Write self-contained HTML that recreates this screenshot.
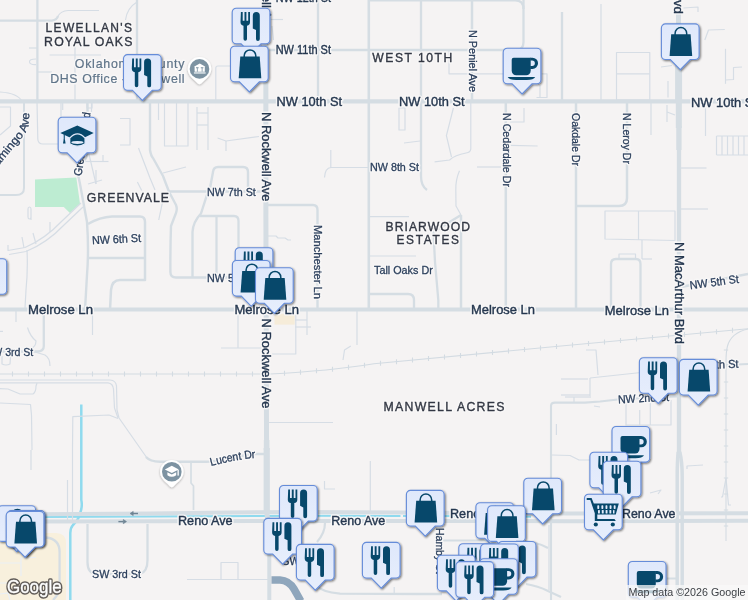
<!DOCTYPE html>
<html lang="en"><head><meta charset="utf-8"><title>Map</title>
<style>
html,body{margin:0;padding:0;background:#f5f3f3;overflow:hidden}
svg{display:block}
text{font-family:"Liberation Sans",sans-serif}
.halo{fill:#f8f7f7;stroke:#f8f7f7;stroke-width:3.2px;stroke-linejoin:round}
.st{fill:#25374f;stroke:#25374f;stroke-width:.38px}
.st2{fill:#2b3f5c;stroke:#2b3f5c;stroke-width:.3px}
.st3{fill:#4c5d73;stroke:#4c5d73;stroke-width:.2px}
.hood{fill:#323743;stroke:#323743;stroke-width:.35px}
.poi{fill:#5f7489;stroke:#5f7489;stroke-width:.2px}
#lbl{opacity:.999}
.rd{fill:none;stroke:#d5dde3;stroke-linecap:butt;stroke-linejoin:round}
.mn{fill:none;stroke:#d6dde5;stroke-width:1.2;stroke-linejoin:round}
.ic{fill:#07486b}
</style></head><body>
<svg width="748" height="600" viewBox="0 0 748 600">
<defs>
<linearGradient id="mg" x1="0" y1="0" x2="0" y2="1"><stop offset="0" stop-color="#dfe8fb"/><stop offset="1" stop-color="#e7eefc"/></linearGradient>
<filter id="sh" x="-20%" y="-20%" width="150%" height="150%"><feGaussianBlur in="SourceAlpha" stdDeviation="1.1"/><feOffset dx="1" dy="1.2"/><feComponentTransfer><feFuncA type="linear" slope="0.55"/></feComponentTransfer><feMerge><feMergeNode/><feMergeNode in="SourceGraphic"/></feMerge></filter>
<filter id="sh2" x="-30%" y="-30%" width="160%" height="160%"><feGaussianBlur in="SourceAlpha" stdDeviation="0.9"/><feOffset dx="0" dy="0.8"/><feComponentTransfer><feFuncA type="linear" slope="0.3"/></feComponentTransfer><feMerge><feMergeNode/><feMergeNode in="SourceGraphic"/></feMerge></filter>
<path id="mb" d="M4.5,0.5 H34.2 a4,4 0 0 1 4,4 V32.1 a4,4 0 0 1 -4,4 H29.3 L19.35,46.3 L9.4,36.1 H4.5 a4,4 0 0 1 -4,-4 V4.5 a4,4 0 0 1 4,-4 z" fill="url(#mg)" stroke="#658cd9" stroke-width="1.1"/>
<g id="i-bag" class="ic"><path d="M10.3,10.9 H29.7 L31.3,32.6 H8.7 z"/><path d="M14.2,12 V10 a5.8,5.8 0 0 1 11.6,0 V12" fill="none" stroke="#07486b" stroke-width="1.5"/></g>
<g id="i-fk" class="ic" transform="translate(.5 .4)"><path d="M8.7,4 h1.8 v8.7 h1.8 v-8.7 h1.9 v8.7 h1.8 v-8.7 h1.8 v10 q0,3.1 -3,3.7 v13.2 a1.75,1.75 0 0 1 -3.5,0 v-13.2 q-3,-0.6 -3,-3.7 z"/><path d="M20.6,7.6 a3.5,3.6 0 0 1 7,0 V30.9 a1.9,1.9 0 0 1 -3.8,0 V22 l-3.2,-1.6 z"/></g>
<g id="i-cup" class="ic"><path d="M9,12 a2,2 0 0 1 2,-2 H28 V23 a4.5,4.5 0 0 1 -4.5,4.5 H13.5 A4.5,4.5 0 0 1 9,23 z"/><path d="M27.5,10 h2.2 a5.65,5.65 0 0 1 0,11.3 h-2.2 v-2.9 h1.9 a2.75,2.75 0 0 0 0,-5.5 h-1.9 z"/><path d="M5,29.2 H32.5 Q31,32.2 24,32.2 H13.5 Q6.5,32.2 5,29.2 z"/></g>
<g id="i-cart" class="ic"><path d="M2.7,4.2 H7.6 L9.8,9.8 H34.8 L31.8,20.8 H13.3 V25.4 H30.5 L31.8,27.4 H10.8 V19.5 L6.3,6.2 H2.7 z"/><circle cx="11.8" cy="30.8" r="2.1"/><circle cx="28.8" cy="30.8" r="2.1"/><g fill="#e3ebfb"><rect x="13.3" y="11.6" width="1.9" height="3.6" rx=".6"/><rect x="17.4" y="11.6" width="1.9" height="3.6" rx=".6"/><rect x="21.5" y="11.6" width="1.9" height="3.6" rx=".6"/><rect x="25.6" y="11.6" width="1.9" height="3.6" rx=".6"/><rect x="29.7" y="11.6" width="1.9" height="3.6" rx=".6"/><rect x="14" y="16.3" width="1.9" height="3.6" rx=".6"/><rect x="17.8" y="16.3" width="1.9" height="3.6" rx=".6"/><rect x="21.6" y="16.3" width="1.9" height="3.6" rx=".6"/><rect x="25.4" y="16.3" width="1.9" height="3.6" rx=".6"/><rect x="29" y="16.3" width="1.5" height="3.6" rx=".6"/></g></g>
<g id="i-grad" class="ic"><path d="M19.6,8.7 L36,16.4 L19.6,24.4 L2.6,16.4 z"/><path d="M12,21.4 Q19.8,13 27.4,21.4 V27 Q19.8,32 12,27 z" stroke="#e3ebfb" stroke-width="1.3"/><ellipse cx="19.7" cy="25.7" rx="6.1" ry="1.5" fill="#e3ebfb"/><rect x="6" y="17.6" width="1.1" height="5.4"/><path d="M5.3,26.7 L6,22.6 H7.2 L7.9,26.7 z"/></g>
<path id="fp" d="M-8.4,174.1 L21.6,138.1 Q25.5,133.5 27.4,128.7 Q29.3,122.5 29.6,108"/>
<path id="lp" d="M211,466 Q236,459.4 257,457.8"/>
</defs>
<rect width="748" height="600" fill="#f5f3f3"/>
<path d="M35,179.5 L76.3,177.5 L80,203.8 L70,213 L63.8,207 H35 z" fill="#bdecd2"/>
<path d="M0,533 H56 Q66,533 66,543 V600 H0 z" fill="#f8f0dd"/><path d="M0,563 H21 V576 M21,558 L36,557.5 M0,583 H8 M0,594 L8,593 L10,600 M21,563 V558" fill="none" stroke="#e9eff6" stroke-width="1.2"/>
<rect x="274.5" y="313.8" width="20.2" height="10.8" fill="#f6ecd9"/>
<g fill="none" stroke="#8fdaee" stroke-width="2.5" stroke-linejoin="round"><path d="M81.3,404.5 V500 Q82.6,506 80.5,512 L79,517 Q77,521 73,525 Q70.3,528 70.3,533 V600"/><path d="M40,516.9 L150,516.4 L300,515.8 L400.5,515.9 M403,515.9 H406.5 M444,516.1 L531,516.8" stroke-width="2"/></g>
<g class="mn">
<path d="M58,16 Q61,11 68,10.5 H99"/>
<path d="M75,45 V102"/>
<path d="M49.6,55 H101"/>
<path d="M29,48 H37"/>
<path d="M36,59 Q29,59 29.5,62 Q30,65 36,64.6"/>
<path d="M37,72 H52"/>
<path d="M0,92 Q18,93 22.5,102"/>
<path d="M125.5,20 Q127,8 137,2"/>
<path d="M0,107 H10.5 V126 L0,135"/>
<path d="M37,102 L37.8,139 Q38,144 43,144 H58"/>
<path d="M62.7,102 V110"/>
<path d="M87,102 V108 H92 V102"/>
<path d="M164.5,102 V146 H188 V102"/>
<path d="M176.5,102 V146"/>
<path d="M158.5,102 V120"/>
<path d="M197,107 V150"/>
<path d="M208,107 V150"/>
<path d="M197,113 H208"/>
<path d="M197,125 H208"/>
<path d="M217.6,138 L226,141 L259,136.5"/>
<path d="M226,141 V151"/>
<path d="M120,118.5 H130 V145 H120"/>
<path d="M138.5,148 L150,178 L155,190"/>
<path d="M163,173 L186,167"/>
<path d="M215.8,101 V68 Q215.8,66 218,66 H231"/>
<path d="M61,102 V150"/>
<path d="M80,161.5 H108.5"/>
<path d="M103,155 V161.5"/>
<path d="M88,150 L96,184"/>
<path d="M88,184 L102,180"/>
<path d="M96,170 V184"/>
<path d="M91.5,102 V112"/>
<path d="M81,203 L62,221 Q45,239 25,247.5 L8,250.5 V245"/>
<path d="M83,207 L64,225 Q47,243 26,251.5 L9,254.5"/>
<path d="M50,232 V222"/>
<path d="M36,244 L33,233"/>
<path d="M24,248 L22,237"/>
<path d="M31,220 V209 Q31,207 29.5,207 Q28,207 28,209 V217 Q28,219 29.5,219 Q31,219 31,217"/>
<path d="M449,50 V73.8 H504"/>
<path d="M541.5,73.8 H547 V97.5 H536.5"/>
<path d="M540,85 V97.5"/>
<path d="M399,108 H405 V130 H399 z"/>
<path d="M453.4,108 L446.4,135.6 L451.5,157"/>
<path d="M404,143 L420,141"/>
<path d="M524,108 V122 H510"/>
<path d="M137.4,182 L141.7,190.6"/>
<path d="M162.4,202.6 L158.7,220"/>
<path d="M0,217 H0"/>
<path d="M369,216.6 H409"/>
<path d="M369,256 H416"/>
<path d="M470.8,102 V149 Q470.5,152.5 466,153 Q455,155 449.6,160 L434.6,161.8"/>
<path d="M459.5,170.8 Q455.5,180 455.8,190 L456,206 L461,215"/>
<path d="M477,167 H501"/>
<path d="M510.5,145.3 L537.6,146"/>
<path d="M324.5,177.5 Q325,168 331,167.5 H368"/>
<path d="M330.8,150 V168"/>
<path d="M605,211 H675 V240.5 L605,239 Z"/>
<path d="M638.5,211 V240"/>
<path d="M642,240 V259"/>
<path d="M619,259 V254 H635.5 V259"/>
<path d="M642,259 H652"/>
<path d="M268,236 H276 L278,238 H285 L288,240 H291"/>
<path d="M681,168 H706.5"/>
<path d="M681,209 H708"/>
<path d="M16,310 V322"/>
<path d="M27.5,327.5 Q30,336 36,341 Q36,347 30,349"/>
<path d="M35,352 L45,355 Q50,358 50,366"/>
<path d="M295.8,313 V354 H272"/>
<path d="M307,310 V335"/>
<path d="M295,320 H307"/>
<path d="M295,327 H311"/>
<path d="M357,310 V345"/>
<path d="M350.8,346 L344.5,350 L343,360"/>
<path d="M549,525 V590"/>
<path d="M394.2,587 V594"/>
<path d="M687,469 V466 L703,465"/>
<path d="M650,493 L661,490 L658,494"/>
<path d="M726,478 L722.5,497 H721 M726,478 L728.5,505 H731"/>
<path d="M586,350 H596 L598,375"/>
<path d="M590,378 L641,372.5"/>
<path d="M590,378 V396"/>
<path d="M561,379 H588"/>
<path d="M561,395 H590"/>
<path d="M626,403 V425 H671 V400"/>
<path d="M650.3,403 V425"/>
<path d="M639.7,410 V425"/>
<path d="M556.4,424 V435"/>
<path d="M552,455 L570,455.5 L579,460 H590"/>
<path d="M565,397 H591"/>
<path d="M574,397 V402"/>
<path d="M594,406 L600,407"/>
<path d="M2,356 V364 Q6,366 10,364 L10.5,357"/>
<path d="M0,331.4 H3"/>
<path d="M370.3,461 V511"/>
<path d="M270,19.5 H283"/>
<path d="M272,26 L273.5,40"/>
<path d="M92.5,310 V335"/>
<path d="M0,380 H110 Q116,380.5 116.5,386 L117,410 L119,418 L147,458"/>
<path d="M0,382.8 H108 Q113,383.5 113.5,389 L114.5,408 L118,418"/>
<path d="M0,388.7 L8,389 L20,394 H33 Q36,392 36,386 L37,383"/>
<path d="M0,403 L30.5,404.5 L31.5,415 L32,450"/>
<path d="M72.5,450 L72.8,416.7 L109,415 L118,418.5"/>
<path d="M31,450 V470"/>
<path d="M72.5,450 V520"/>
<path d="M67.5,480 V520"/>
<path d="M268,422.5 H333"/>
<path d="M238,310 V348"/>
<path d="M221,348 H265"/>
<path d="M187,579.5 H268"/>
<path d="M221,579 V562.5 H238 V579"/>
<path d="M324.5,481 V489 H335"/>
<path d="M27,250 Q28,270 26,290 L25,308"/>
<path d="M716.5,136 H748 M716.5,136 V155 M722,136 V155 M727.5,136 V155 M733,136 V155 M738.5,136 V155 M744,136 V155 M716.5,155 H748"/>
<path d="M601,4 V100"/>
<path d="M616.5,52.5 H649.8 V100 H616.5 z"/>
<path d="M616.5,73.8 H649.8"/>
<path d="M661,67 L672,65.5"/>
<path d="M668,81 V97.5"/>
<path d="M651,102 V135"/>
<path d="M667,105 V122"/>
<path d="M667,112 L675,115"/>
<path d="M704.8,40 L708.5,30 L724.8,29.5"/>
<path d="M725.5,48.8 V83.8"/>
<path d="M725.5,80 L733.5,79.5 V67.5 L742,67"/>
<path d="M683.5,8 L698,7 V12"/>
<path d="M705.5,107.5 V136"/>
</g>
<g fill="none" stroke="#d3dbe2" stroke-width="1.1">
<path d="M0,374 H270 Q330,371 374,363.8 L561,346 L748,328.8"/>
<path d="M748,329 Q731,333 727.5,346 Q726,352 726,362 V541"/>
<path d="M12.5,371.5 v5 M28.5,371.5 v5 M44.5,371.5 v5 M60.5,371.5 v5 M76.5,371.5 v5 M92.5,371.5 v5 M108.5,371.5 v5 M124.5,371.5 v5 M140.5,371.5 v5 M156.5,371.5 v5 M172.5,371.5 v5 M188.5,371.5 v5 M204.5,371.5 v5 M220.5,371.5 v5 M236.5,371.5 v5 M252.5,371.5 v5 M268.5,371.5 v5 M284.5,370.8 v5 M300.5,369.7 v5 M316.5,368.3 v5 M332.5,366.7 v5 M348.5,364.8 v5 M364.5,362.7 v5 M380.5,360.7 v5 M396.5,359.2 v5 M412.5,357.6 v5 M428.5,356.1 v5 M444.5,354.6 v5 M460.5,353.1 v5 M476.5,351.5 v5 M492.5,350.0 v5 M508.5,348.5 v5 M524.5,347.0 v5 M540.5,345.5 v5 M556.5,343.9 v5 M572.5,342.4 v5 M588.5,341.0 v5 M604.5,339.5 v5 M620.5,338.0 v5 M636.5,336.6 v5 M652.5,335.1 v5 M668.5,333.6 v5 M684.5,332.1 v5 M700.5,330.7 v5 M716.5,329.2 v5 M732.5,327.7 v5"/>
<path d="M723.8,350.0 h4.4 M723.8,366.0 h4.4 M723.8,382.0 h4.4 M723.8,398.0 h4.4 M723.8,414.0 h4.4 M723.8,430.0 h4.4 M723.8,446.0 h4.4 M723.8,462.0 h4.4 M723.8,478.0 h4.4 M723.8,494.0 h4.4 M723.8,510.0 h4.4 M723.8,526.0 h4.4"/>
</g>
<g class="rd">
<path d="M368.8,0 V310" stroke-width="2.6"/>
<path d="M505.8,102 V310" stroke-width="2.5"/>
<path d="M576,102 V310" stroke-width="2.5"/>
<path d="M627,102 V198 Q627,206 619,206 H576" stroke-width="2.5"/>
<path d="M681,287 L748,274" stroke-width="2.4"/>
<path d="M682,367 L748,364" stroke-width="2"/>
<path d="M443,540.5 H520 Q535,541 548,548" stroke-width="2.2"/>
<path d="M526,584 Q538,586 548,591 L561,597" stroke-width="2.2"/>
<path d="M24,102 V188 Q24,195 16,195 H0" stroke-width="2"/>
<path d="M325,523 Q325,533 317,542" stroke-width="2.2"/>
<path d="M315,585 Q322,592 340,593.6 L420,594 H442" stroke-width="2.3"/>
<path d="M421,0 V176 Q421,186 427,190" stroke-width="2.3"/>
<path d="M472,0 V102" stroke-width="2.5"/>
<path d="M562,12 V102" stroke-width="2.3"/>
<path d="M369,0.4 H515 Q523.5,0.4 523.5,9" stroke-width="2.3"/>
<path d="M318,0 V102" stroke-width="2.3"/>
<path d="M266,50 H516 Q523.5,50 523.5,42 V0" stroke-width="2.3"/>
<path d="M169,191.6 H266" stroke-width="2.5"/>
<path d="M266,205 H313 Q317.5,205 317.5,210 V310" stroke-width="2.4"/>
<path d="M461,215 V310" stroke-width="2.5"/>
<path d="M461,215 L433.5,232 L435,262 L438.3,300 V310" stroke-width="2.3"/>
<path d="M369,294 H408 Q414,294 414,300 V310" stroke-width="2.3"/>
<path d="M611,310 V264 Q611,259 616,259 H636 Q640.5,259 640.5,264 V310" stroke-width="2.3"/>
<path d="M150,102 V150 Q151,156 153,158 L163,176 L169,191.7 L176,205 Q177.5,209 176,213 L171,226 Q170.2,250 170.4,272 Q170.4,277.5 176,277.5 H266" stroke-width="2.4"/>
<path d="M37.4,0 V102" stroke-width="2.3"/>
<path d="M0,20.6 H52 Q57,20 58,16" stroke-width="2.3"/>
<path d="M137,0 V102" stroke-width="2.3"/>
<path d="M87.5,102 V152 Q87,160 81,163 Q77.5,166 77.5,172 L80,184 L87,222 Q89,250 87,275 L85,310" stroke-width="2.4"/>
<path d="M88,224 Q100,217 112,216.5 H140 Q145,216.5 145,222 V280 H120 Q112,280 111,290 L110,310" stroke-width="2.5"/>
<path d="M88,258 H145" stroke-width="2.3"/>
<path d="M209.5,191 L213,172 Q213.5,167 218,167 H243 Q248,167 248,172 V191" stroke-width="2.4"/>
<path d="M209.5,191 L206.8,195.3 L201,213.5 Q193,222 192.5,232 V278" stroke-width="2.4"/>
<path d="M200,216 H234 Q238.5,216 238.5,221 V277" stroke-width="2.3"/>
<path d="M216.5,217 V277" stroke-width="2.3"/>
<path d="M551,600 V406 Q551,402.6 555,402.6 H585 L600,401.5 L620,399.3 L677,396.4" stroke-width="2.1"/>
<path d="M146,457 Q150,461.5 160,461.8 H206 C222,461.8 240,454 256,454 H266" stroke-width="2.4"/>
<path d="M87.5,524 V562 Q87.5,574 97,574 H140 Q147.5,572 147.5,560 V524" stroke-width="2.3"/>
<path d="M43.8,310 V346 Q43.8,351 38,351.5 H0" stroke-width="2.3"/>
<path d="M53,600 Q59.6,594 59.6,586 V552 Q59.6,539 46,537.5" stroke-width="2.3"/>
<path d="M191,462 V483 L193.5,486 V510" stroke-width="1.7"/>
<path d="M0,101.4 H748" stroke-width="4.4"/>
<path d="M265.85,0 V200 L266.5,430 L266.8,512 L268,524" stroke-width="5"/>
<path d="M267.6,520 L269.3,532 V600" stroke-width="4"/>
<path d="M0,309.5 H748" stroke-width="4"/>
<path d="M266.6,440 V450" stroke-width="5.6"/>
<path d="M266.7,448 V512" stroke-width="6.2"/>
<path d="M679,100 V458" stroke-width="4.3"/>
<path d="M678.5,0 V66" stroke-width="5"/>
<path d="M678.6,62 V100" stroke-width="7"/>
<path d="M678.8,100 V128" stroke-width="6"/>
<path d="M678.9,126 V150" stroke-width="5.2"/>
<path d="M678.2,452 Q677.2,462 677.2,476 V600" stroke-width="3.5"/>
<path d="M679.8,452 Q682.2,462 682.2,476 V600" stroke-width="3.5"/>
<path d="M667,578.5 H677" stroke-width="2"/>
<path d="M40,514.2 L150,513.4 L230,512.5 L300,512.1 L400,512.5 L570,513.5 L748,513.3" stroke-width="4"/>
<path d="M40,521.5 L150,521.3 L300,521 L400,520.9 L570,521.2 L748,520.7" stroke-width="4"/>
</g>
<path d="M271.5,580 H280 Q289,580.5 294,589 L300.8,601" fill="none" stroke="#8fa6bc" stroke-width="7.6"/>
<g fill="#6f8494" stroke="#6f8494" stroke-width="1.4" stroke-linejoin="round"><path d="M133,513.5 H138" fill="none"/><path d="M130,513.5 l3.2,-2.1 v4.2 z" stroke-width=".6"/><path d="M118.4,521.6 H123.4" fill="none"/><path d="M126.5,521.6 l-3.2,-2.1 v4.2 z" stroke-width=".6"/></g>
<g id="lbl">
<g class="halo">
<text id="t0" x="275.7" y="1.9" font-size="12.3" textLength="55.3" lengthAdjust="spacingAndGlyphs">NW 12th St</text>
<text id="t1" x="275.7" y="54.1" font-size="12.3" textLength="55.3" lengthAdjust="spacingAndGlyphs">NW 11th St</text>
<text id="t2" x="276.5" y="106.4" font-size="12.3" textLength="65.5" lengthAdjust="spacingAndGlyphs">NW 10th St</text>
<text id="t3" x="399.0" y="106.4" font-size="12.3" textLength="65.5" lengthAdjust="spacingAndGlyphs">NW 10th St</text>
<text id="t4" x="691.0" y="106.9" font-size="12.3" textLength="66.0" lengthAdjust="spacingAndGlyphs">NW 10th St</text>
<text id="t5" x="370.0" y="171.1" font-size="11.5" textLength="49.0" lengthAdjust="spacingAndGlyphs">NW 8th St</text>
<text id="t6" x="207.0" y="195.6" font-size="11.5" textLength="48.8" lengthAdjust="spacingAndGlyphs">NW 7th St</text>
<text id="t7" x="92.0" y="243.1" font-size="11.5" textLength="49.0" lengthAdjust="spacingAndGlyphs" transform="rotate(-3 116.5 239.0)">NW 6th St</text>
<text id="t8" x="207.0" y="281.6" font-size="11.5" textLength="49.0" lengthAdjust="spacingAndGlyphs">NW 5th St</text>
<text id="t9" x="374.0" y="274.1" font-size="11.5" textLength="58.8" lengthAdjust="spacingAndGlyphs">Tall Oaks Dr</text>
<text id="t10" x="689.5" y="286.0" font-size="11.5" textLength="49.3" lengthAdjust="spacingAndGlyphs" transform="rotate(-7.5 714.1 281.9)">NW 5th St</text>
<text id="t11" x="28.0" y="313.9" font-size="12.3" textLength="65.0" lengthAdjust="spacingAndGlyphs">Melrose Ln</text>
<text id="t12" x="234.5" y="313.7" font-size="12.3" textLength="64.5" lengthAdjust="spacingAndGlyphs">Melrose Ln</text>
<text id="t13" x="471.0" y="314.4" font-size="12.3" textLength="64.0" lengthAdjust="spacingAndGlyphs">Melrose Ln</text>
<text id="t14" x="604.8" y="315.0" font-size="12.3" textLength="64.2" lengthAdjust="spacingAndGlyphs">Melrose Ln</text>
<text id="t15" x="-15.4" y="356.1" font-size="11.5" textLength="48.7" lengthAdjust="spacingAndGlyphs">NW 3rd St</text>
<text id="t16" x="618.0" y="402.1" font-size="11.5" textLength="51.0" lengthAdjust="spacingAndGlyphs" transform="rotate(-3 643.5 398.0)">NW 2nd St</text>
<text id="t17" x="688.0" y="368.6" font-size="11.5" textLength="50.5" lengthAdjust="spacingAndGlyphs" transform="rotate(-2 713.2 364.5)">NW 4th St</text>
<text id="t18" x="50.0" y="148.1" font-size="11.5" textLength="64.0" lengthAdjust="spacingAndGlyphs" transform="rotate(-82 82.0 144.0)">Greenvale Rd</text>
<text id="t19" x="178.0" y="524.6" font-size="12.4" textLength="54.5" lengthAdjust="spacingAndGlyphs">Reno Ave</text>
<text id="t20" x="331.3" y="524.6" font-size="12.4" textLength="54.0" lengthAdjust="spacingAndGlyphs">Reno Ave</text>
<text id="t21" x="450.0" y="517.7" font-size="12.4" textLength="54.5" lengthAdjust="spacingAndGlyphs">Reno Ave</text>
<text id="t22" x="622.0" y="518.2" font-size="12.4" textLength="53.5" lengthAdjust="spacingAndGlyphs">Reno Ave</text>
<text id="t23" x="92.0" y="578.1" font-size="11.5" textLength="49.0" lengthAdjust="spacingAndGlyphs">SW 3rd St</text>
<text id="t24" x="282.3" y="564.9" font-size="11.5" textLength="49.0" lengthAdjust="spacingAndGlyphs">SW 3rd St</text>
<text id="t25" font-size="13.3" textLength="89.0" lengthAdjust="spacingAndGlyphs" transform="translate(266.7 -56.5) rotate(90)" x="0" y="4.72">N Rockwell Ave</text>
<text id="t26" font-size="13.3" textLength="89.5" lengthAdjust="spacingAndGlyphs" transform="translate(266.7 112.0) rotate(90)" x="0" y="4.72">N Rockwell Ave</text>
<text id="t27" font-size="13.3" textLength="90.0" lengthAdjust="spacingAndGlyphs" transform="translate(266.9 318.4) rotate(90)" x="0" y="4.72">N Rockwell Ave</text>
<text id="t28" font-size="13.3" textLength="104.0" lengthAdjust="spacingAndGlyphs" transform="translate(679.1 -90.0) rotate(90)" x="0" y="4.72">N MacArthur Blvd</text>
<text id="t29" font-size="13.3" textLength="102.0" lengthAdjust="spacingAndGlyphs" transform="translate(680.1 242.0) rotate(90)" x="0" y="4.72">N MacArthur Blvd</text>
<text id="t30" font-size="11.5" textLength="74.0" lengthAdjust="spacingAndGlyphs" transform="translate(318.3 225.0) rotate(90)" x="0" y="4.08">Manchester Ln</text>
<text id="t31" font-size="11.5" textLength="62.0" lengthAdjust="spacingAndGlyphs" transform="translate(473.4 30.0) rotate(90)" x="0" y="4.08">N Peniel Ave</text>
<text id="t32" font-size="11.5" textLength="74.0" lengthAdjust="spacingAndGlyphs" transform="translate(506.7 113.0) rotate(90)" x="0" y="4.08">N Cedardale Dr</text>
<text id="t33" font-size="11.5" textLength="53.0" lengthAdjust="spacingAndGlyphs" transform="translate(576.4 113.0) rotate(90)" x="0" y="4.08">Oakdale Dr</text>
<text id="t34" font-size="11.5" textLength="51.0" lengthAdjust="spacingAndGlyphs" transform="translate(626.9 113.0) rotate(90)" x="0" y="4.08">N Leroy Dr</text>
<text id="t35" font-size="11.5" textLength="46.0" lengthAdjust="spacingAndGlyphs" transform="translate(440.2 528.0) rotate(90)" x="0" y="4.08">Hamby St</text>
<text id="t36" x="45.6" y="32.4" font-size="12.01" textLength="86.4" lengthAdjust="spacing">LEWELLAN&#39;S</text>
<text id="t37" x="44.1" y="45.7" font-size="12.29" textLength="88.3" lengthAdjust="spacing">ROYAL OAKS</text>
<text id="t38" x="372.3" y="62.0" font-size="12.15" textLength="80.0" lengthAdjust="spacing">WEST 10TH</text>
<text id="t39" x="86.8" y="201.9" font-size="12.29" textLength="82.2" lengthAdjust="spacing">GREENVALE</text>
<text id="t40" x="385.5" y="230.5" font-size="12.15" textLength="84.5" lengthAdjust="spacing">BRIARWOOD</text>
<text id="t41" x="396.5" y="243.5" font-size="11.87" textLength="62.5" lengthAdjust="spacing">ESTATES</text>
<text id="t42" x="383.5" y="411.3" font-size="12.29" textLength="121.0" lengthAdjust="spacing">MANWELL ACRES</text>
<text id="t43" font-size="11.5"><textPath href="#lp" textLength="45.2" lengthAdjust="spacingAndGlyphs">Lucent Dr</textPath></text>
<text id="t44" font-size="11.5"><textPath href="#fp" textLength="74" lengthAdjust="spacingAndGlyphs">Flamingo Ave</textPath></text>
<text id="t45" x="74.8" y="68.4" font-size="12.4" textLength="109.7" lengthAdjust="spacing">Oklahoma County</text>
<text id="t46" x="50.2" y="82.5" font-size="12.4" textLength="134.3" lengthAdjust="spacing">DHS Office - Rockwell</text>
</g>
<use href="#t0" class="st"/>
<use href="#t1" class="st"/>
<use href="#t2" class="st"/>
<use href="#t3" class="st"/>
<use href="#t4" class="st"/>
<use href="#t5" class="st2"/>
<use href="#t6" class="st2"/>
<use href="#t7" class="st2"/>
<use href="#t8" class="st2"/>
<use href="#t9" class="st2"/>
<use href="#t10" class="st2"/>
<use href="#t11" class="st"/>
<use href="#t12" class="st"/>
<use href="#t13" class="st"/>
<use href="#t14" class="st"/>
<use href="#t15" class="st2"/>
<use href="#t16" class="st2"/>
<use href="#t17" class="st2"/>
<use href="#t18" class="st2"/>
<use href="#t19" class="st"/>
<use href="#t20" class="st"/>
<use href="#t21" class="st"/>
<use href="#t22" class="st"/>
<use href="#t23" class="st2"/>
<use href="#t24" class="st2"/>
<use href="#t25" class="st"/>
<use href="#t26" class="st"/>
<use href="#t27" class="st"/>
<use href="#t28" class="st"/>
<use href="#t29" class="st"/>
<use href="#t30" class="st2"/>
<use href="#t31" class="st2"/>
<use href="#t32" class="st2"/>
<use href="#t33" class="st2"/>
<use href="#t34" class="st2"/>
<use href="#t35" class="st2"/>
<use href="#t36" class="hood"/>
<use href="#t37" class="hood"/>
<use href="#t38" class="hood"/>
<use href="#t39" class="hood"/>
<use href="#t40" class="hood"/>
<use href="#t41" class="hood"/>
<use href="#t42" class="hood"/>
<use href="#t43" class="st2"/>
<use href="#t44" class="st2"/>
<use href="#t45" class="poi"/>
<use href="#t46" class="poi"/>
</g>
<g filter="url(#sh2)"><path d="M199.5,68.9 m-11.8,0 a11.8,11.8 0 1 1 23.6,0 q0,6 -7.5,12 l-2.6,2.6 q-1.7,1.5 -3.4,0 l-2.6,-2.6 q-7.5,-6 -7.5,-12 z" fill="#fff"/></g><circle cx="199.5" cy="68.9" r="9.8" fill="#7d93a2"/><g transform="translate(199.5 68.9)"><path d="M0.3,-5.3 L6,-2.2 H5.3 V2.8 H-4.9 V-2.2 H-5.6 z" fill="#fff"/><path d="M-3.5,-1.6 h2.6 v1 h-0.9 v3.4 h-0.8 v-3.4 h-0.9 z M1.3,-1.6 h2.6 v1 h-0.9 v3.4 h-0.8 v-3.4 h-0.9 z" fill="#7d93a2"/><rect x="-5.6" y="3.3" width="11.7" height="1.5" fill="#dde4e9"/></g>
<g filter="url(#sh2)"><path d="M171.8,471.8 m-11.8,0 a11.8,11.8 0 1 1 23.6,0 q0,6 -7.5,12 l-2.6,2.6 q-1.7,1.5 -3.4,0 l-2.6,-2.6 q-7.5,-6 -7.5,-12 z" fill="#fff"/></g><circle cx="171.8" cy="471.8" r="9.8" fill="#7d93a2"/><g transform="translate(171.8 471.8)" fill="#fff"><path d="M0,-6 L7,-2.4 L0,1.2 L-7,-2.4 z"/><path d="M-4.4,0.4 L0,2.7 L4.4,0.4 V3.4 Q0,6.6 -4.4,3.4 z"/><rect x="5.7" y="-1.8" width="1.3" height="5.6"/></g>
<g transform="translate(231.7 7.7)"><use href="#mb" filter="url(#sh)"/><use href="#i-fk"/></g>
<g transform="translate(230.0 45.7)"><use href="#mb" filter="url(#sh)"/><use href="#i-bag"/></g>
<g transform="translate(660.9 23.4)"><use href="#mb" filter="url(#sh)"/><use href="#i-bag"/></g>
<g transform="translate(502.7 47.7)"><use href="#mb" filter="url(#sh)"/><use href="#i-cup"/></g>
<g transform="translate(123.0 54.1)"><use href="#mb" filter="url(#sh)"/><use href="#i-fk"/></g>
<g transform="translate(57.7 116.7)"><use href="#mb" filter="url(#sh)"/><use href="#i-grad"/></g>
<g transform="translate(234.7 247.2)"><use href="#mb" filter="url(#sh)"/><use href="#i-fk"/></g>
<g transform="translate(-31.5 258.2)"><use href="#mb" filter="url(#sh)"/><use href="#i-bag"/></g>
<g transform="translate(231.9 260.0)"><use href="#mb" filter="url(#sh)"/><use href="#i-bag"/></g>
<g transform="translate(255.0 267.2)"><use href="#mb" filter="url(#sh)"/><use href="#i-bag"/></g>
<g transform="translate(638.9 357.2)"><use href="#mb" filter="url(#sh)"/><use href="#i-fk"/></g>
<g transform="translate(678.9 358.9)"><use href="#mb" filter="url(#sh)"/><use href="#i-bag"/></g>
<g transform="translate(611.5 426.0)"><use href="#mb" filter="url(#sh)"/><use href="#i-cup"/></g>
<g transform="translate(589.4 451.7)"><use href="#mb" filter="url(#sh)"/><use href="#i-fk"/></g>
<g transform="translate(602.7 460.7)"><use href="#mb" filter="url(#sh)"/><use href="#i-fk"/></g>
<g transform="translate(523.3 477.7)"><use href="#mb" filter="url(#sh)"/><use href="#i-bag"/></g>
<g transform="translate(279.0 485.0)"><use href="#mb" filter="url(#sh)"/><use href="#i-fk"/></g>
<g transform="translate(405.9 489.9)"><use href="#mb" filter="url(#sh)"/><use href="#i-bag"/></g>
<g transform="translate(584.0 493.7)"><use href="#mb" filter="url(#sh)"/><use href="#i-cart"/></g>
<g transform="translate(475.4 502.2)"><use href="#mb" filter="url(#sh)"/><use href="#i-bag"/></g>
<g transform="translate(-2.6 505.3)"><use href="#mb" filter="url(#sh)"/><use href="#i-bag"/></g>
<g transform="translate(487.1 505.3)"><use href="#mb" filter="url(#sh)"/><use href="#i-bag"/></g>
<g transform="translate(6.7 510.1)"><use href="#mb" filter="url(#sh)"/><use href="#i-bag"/></g>
<g transform="translate(5.7 510.9)"><use href="#mb" filter="url(#sh)"/><use href="#i-bag"/></g>
<g transform="translate(263.3 517.9)"><use href="#mb" filter="url(#sh)"/><use href="#i-fk"/></g>
<g transform="translate(497.7 541.0)"><use href="#mb" filter="url(#sh)"/><use href="#i-fk"/></g>
<g transform="translate(361.9 541.9)"><use href="#mb" filter="url(#sh)"/><use href="#i-fk"/></g>
<g transform="translate(458.3 543.3)"><use href="#mb" filter="url(#sh)"/><use href="#i-fk"/></g>
<g transform="translate(480.1 543.5)"><use href="#mb" filter="url(#sh)"/><use href="#i-fk"/></g>
<g transform="translate(295.9 543.9)"><use href="#mb" filter="url(#sh)"/><use href="#i-fk"/></g>
<g transform="translate(436.9 554.8)"><use href="#mb" filter="url(#sh)"/><use href="#i-fk"/></g>
<g transform="translate(479.1 558.2)"><use href="#mb" filter="url(#sh)"/><use href="#i-cup"/></g>
<g transform="translate(455.4 561.1)"><use href="#mb" filter="url(#sh)"/><use href="#i-fk"/></g>
<g transform="translate(627.8 561.0)"><use href="#mb" filter="url(#sh)"/><use href="#i-cup"/></g>
<g opacity=".999"><g fill="#615c58" stroke="#615c58" stroke-width="3.5" stroke-linejoin="round"><text id="gl" x="7" y="593.2" font-size="19" textLength="54.6" lengthAdjust="spacingAndGlyphs">Google</text></g><use href="#gl" fill="#fff" stroke="#fff" stroke-width=".35"/></g>
<rect x="626" y="585" width="122" height="15" fill="#f8f8f8" fill-opacity="0.75"/>
<text x="628.5" y="596.2" font-size="10.6" fill="#3c3f44" textLength="117" lengthAdjust="spacingAndGlyphs">Map data ©2026 Google</text>
</svg></body></html>
